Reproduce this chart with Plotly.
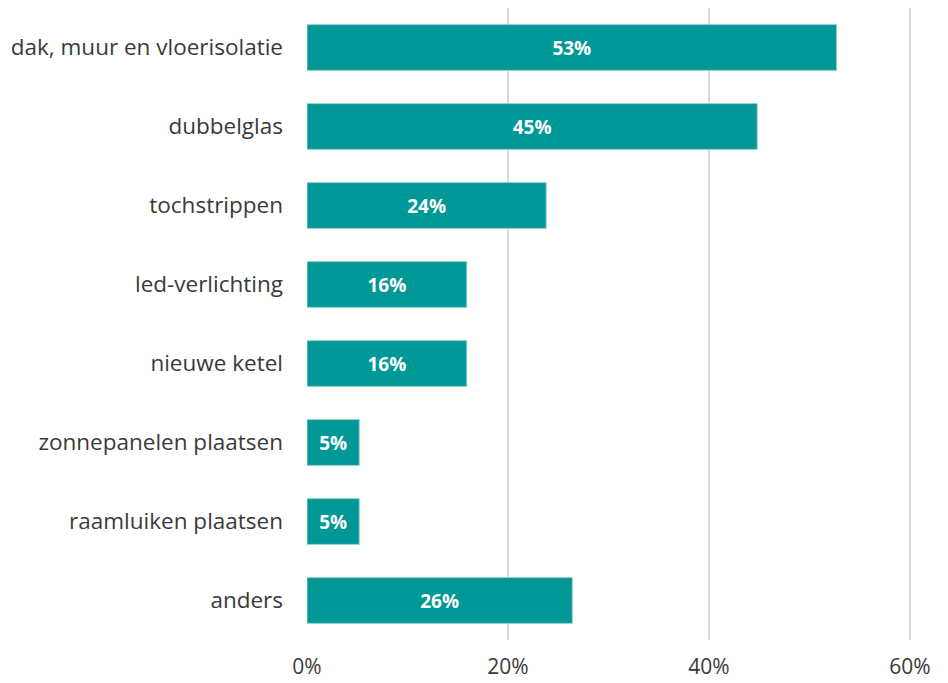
import plotly.graph_objects as go

categories = ["dak, muur en vloerisolatie", "dubbelglas", "tochstrippen", "led-verlichting",
              "nieuwe ketel", "zonnepanelen plaatsen", "raamluiken plaatsen", "anders"]
values = [52.7, 44.8, 23.8, 15.9, 15.9, 5.2, 5.2, 26.4]
x_ticks = [0, 20, 40, 60]
x_tick_labels = ["0%", "20%", "40%", "60%"]

fig = go.Figure(go.Bar(
    y=categories, x=values, orientation="h",
    marker=dict(color="#009896", line=dict(color="#9fcfce", width=1)),
    text=[f"<b>{round(v)}%</b>" for v in values],
    textposition="inside", insidetextanchor="middle",
    textfont=dict(color="white", size=19, family="Open Sans"),
    width=0.58,
))
fig.update_layout(
    width=940, height=675,
    margin=dict(l=299, r=36, t=0, b=43),
    plot_bgcolor="white", paper_bgcolor="white",
    showlegend=False,
    font=dict(family="Open Sans", size=22.5, color="#3a3a3a"),
)
fig.update_yaxes(categoryorder="array", categoryarray=categories[::-1], automargin=False,
                 ticks="", ticklabelstandoff=23, showgrid=False, showline=False)
fig.update_xaxes(range=[0, 60.2], tickvals=x_ticks, ticktext=x_tick_labels, automargin=False,
                 showgrid=True, gridcolor="#d9d9d9", gridwidth=2, zeroline=False,
                 showline=False, ticks="", tickfont=dict(size=21), ticklabelstandoff=12)
fig.write_html("out.html")
